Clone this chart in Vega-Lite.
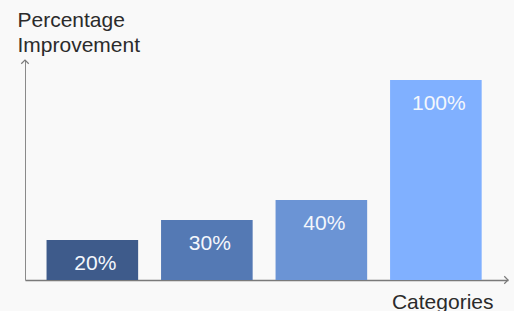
{
  "$schema": "https://vega.github.io/schema/vega-lite/v6.json",
  "width": 483,
  "height": 220,
  "autosize": "none",
  "padding": {"left": 25, "top": 60, "right": 6, "bottom": 31},
  "background": "#f9f9f9",
  "config": {
    "view": {"stroke": null},
    "font": "Liberation Sans"
  },
  "data": {
    "values": [
      {"category": "A", "value": 20, "label": "20%"},
      {"category": "B", "value": 30, "label": "30%"},
      {"category": "C", "value": 40, "label": "40%"},
      {"category": "D", "value": 100, "label": "100%"}
    ]
  },
  "resolve": {"scale": {"x": "independent", "shape": "independent"}, "axis": {"x": "independent"}},
  "layer": [
    {
      "layer": [
        {
          "mark": {"type": "bar"},
          "encoding": {
            "color": {
              "field": "category",
              "type": "nominal",
              "scale": {"domain": ["A", "B", "C", "D"], "range": ["#3e5b8b", "#5479b4", "#6b94d5", "#80b0ff"]},
              "legend": null
            }
          }
        },
        {
          "mark": {"type": "text", "baseline": "middle", "dy": 24, "dx": 3, "fontSize": 21, "color": "#f4f7fc"},
          "encoding": {"text": {"field": "label"}}
        }
      ],
      "encoding": {
        "x": {
          "field": "category",
          "type": "nominal",
          "scale": {"paddingInner": 0.2, "paddingOuter": 0.209, "align": 0.45},
          "axis": {
            "labels": false,
            "ticks": false,
            "domainColor": "#7a7a7a",
            "domainWidth": 1.5,
            "title": "Categories",
            "titleFontSize": 21,
            "titleFontWeight": "normal",
            "titleColor": "#2b2b2b",
            "titleAlign": "right",
            "titleAnchor": null,
            "titleBaseline": "alphabetic",
            "titleX": 468,
            "titleY": 28
          }
        },
        "y": {
          "field": "value",
          "type": "quantitative",
          "scale": {"domain": [0, 110], "nice": false},
          "axis": {
            "labels": false,
            "ticks": false,
            "grid": false,
            "domainColor": "#8a8a8a",
            "domainWidth": 1,
            "title": ["Percentage", "Improvement"],
            "titleFontSize": 21,
            "titleFontWeight": "normal",
            "titleColor": "#2b2b2b",
            "titleAngle": 0,
            "titleAlign": "left",
            "titleBaseline": "alphabetic",
            "titleLineHeight": 25,
            "titleX": -8,
            "titleY": -34
          }
        }
      }
    },
    {
      "data": {
        "values": [
          {"dir": "up", "px": 0, "py": 110},
          {"dir": "right", "px": 1, "py": 0}
        ]
      },
      "mark": {"type": "point", "filled": false, "stroke": "#7a7a7a", "strokeWidth": 1.2, "size": 56, "opacity": 1},
      "encoding": {
        "x": {"field": "px", "type": "quantitative", "scale": {"domain": [0, 1], "nice": false, "zero": false}, "axis": null},
        "y": {"field": "py", "type": "quantitative"},
        "shape": {
          "field": "dir",
          "type": "nominal",
          "scale": {"domain": ["up", "right"], "range": ["M-1,1L0,0L1,1", "M-1,-1L0,0L-1,1"]},
          "legend": null
        }
      }
    }
  ]
}
